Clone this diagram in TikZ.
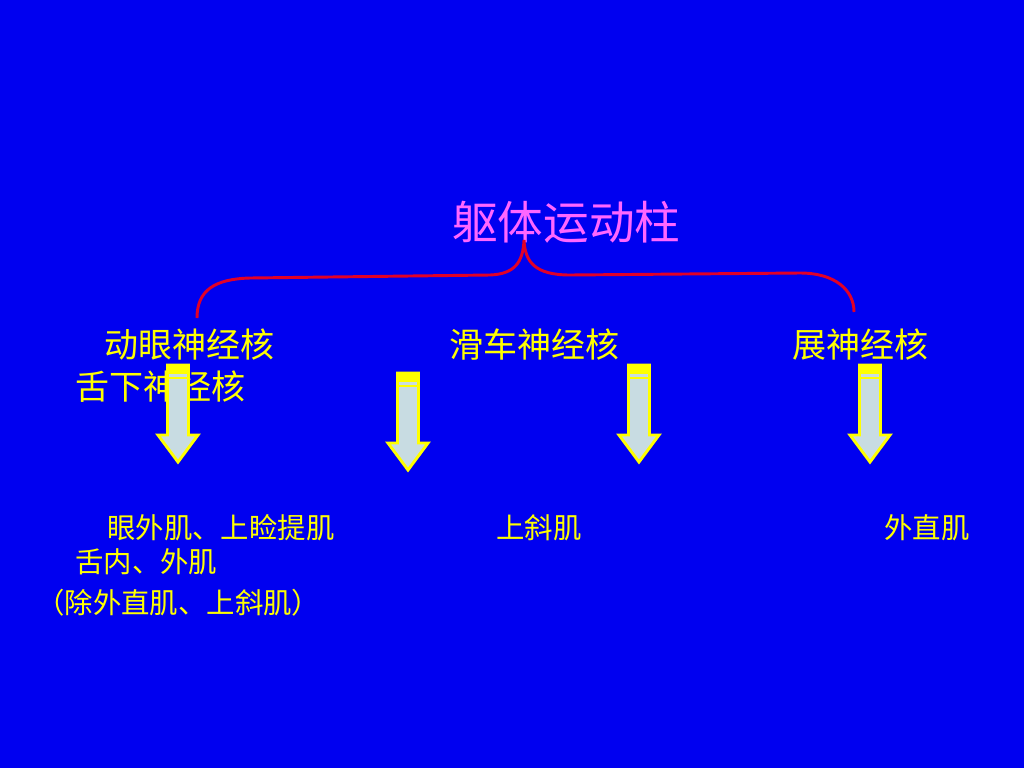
\documentclass[tikz,border=0pt]{standalone}
\usepackage{fontspec}
\newfontfamily\cjk{Noto Sans CJK SC}
\definecolor{fundo}{RGB}{0,0,240}
\definecolor{rosa}{RGB}{255,102,255}
\definecolor{amarelo}{RGB}{255,255,0}
\definecolor{vermelho}{RGB}{225,0,40}
\definecolor{cinza}{RGB}{200,220,226}
\begin{document}
\begin{tikzpicture}[x=0.75pt, y=-0.75pt,
    every node/.style={inner sep=0pt, anchor=base west},
    titulo/.style={text=rosa, font=\cjk\fontsize{34.2}{40}\selectfont},
    nucleo/.style={text=amarelo, font=\cjk\fontsize{25.5}{30}\selectfont},
    musculo/.style={text=amarelo, font=\cjk\fontsize{21.3}{25}\selectfont},
    seta/.style={draw=amarelo, line width=2.2pt, fill=cinza, line join=miter},
    chave/.style={draw=vermelho, line width=2.2pt}]

  \fill[fundo] (0,0) rectangle (1024,768);
  \useasboundingbox (0,0) rectangle (1024,768);

  % 1. Titulo e chave
  \node[titulo] (t) at (452,239) {躯体运动柱};
  \coordinate (c0) at (197,318);
  \coordinate (c1) at (524,240);
  \coordinate (c2) at (854,312);
  \draw[chave] (c0) .. controls (197,290) and (215,279) .. (250,278) -- (490,275)
    .. controls (515,274) and (523,262) .. (c1)
    .. controls (525,262) and (535,275) .. (570,275) -- (800,273)
    .. controls (835,273) and (854,290) .. (c2);

  % 2. Nucleos
  \node[nucleo] (n0) at (104,357) {动眼神经核};
  \node[nucleo] (n1) at (75,399) {舌下神经核};
  \node[nucleo] (n2) at (449,357) {滑车神经核};
  \node[nucleo] (n3) at (792,357) {展神经核};

  % 3. Musculos
  \node[musculo] (m0) at (107,538) {眼外肌、上睑提肌};
  \node[musculo] (m1) at (75,572) {舌内、外肌};
  \node[musculo] (m2) at (36,613) {（除外直肌、上斜肌）};
  \node[musculo] (m3) at (496,538) {上斜肌};
  \node[musculo] (m4) at (884,538) {外直肌};

  % 4. Setas
  \foreach \x/\t/\h in {178/365/435, 408/373/443, 639/365/435, 870/365/435} {
    \draw[seta] (\x-10.5,\t) -- (\x+10.5,\t) -- (\x+10.5,\h) -- (\x+20,\h)
      -- (\x,\h+27) -- (\x-20,\h) -- (\x-10.5,\h) -- cycle;
    \fill[amarelo] (\x-10.5,\t) rectangle (\x+10.5,\t+9);
    \draw[amarelo, line width=1pt] (\x-10.5,\t+13) -- (\x+10.5,\t+13);
  }

\end{tikzpicture}
\end{document}
